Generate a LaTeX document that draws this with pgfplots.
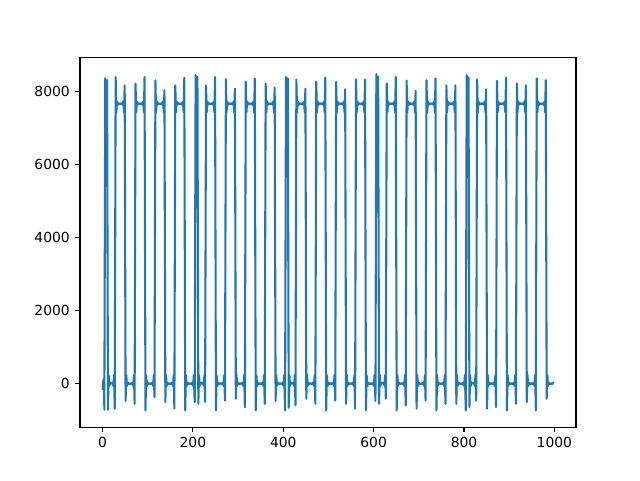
\documentclass[border=0pt]{standalone}
\usepackage{fontspec}
\setmainfont{DejaVu Sans}
\usepackage{pgfplots}
\pgfplotsset{compat=1.18}
\definecolor{mplblue}{HTML}{1F77B4}
\begin{document}
\begin{tikzpicture}
\begin{axis}[
  scale only axis,
  width=372pt, height=277.2pt,
  xmin=-49.9, xmax=1047.9,
  ymin=-1200, ymax=8920,
  xtick={0,200,400,600,800,1000},
  ytick={0,2000,4000,6000,8000},
  xtick pos=bottom, ytick pos=left,
  tick align=outside,
  major tick length=3.65pt,
  every tick/.style={black, line width=0.83pt},
  axis line style={line width=0.83pt},
  tick label style={font=\fontsize{10.4}{12}\selectfont},
  /pgf/number format/assume math mode=true,
  /pgf/number format/1000 sep={},
  scaled ticks=false,
  xticklabel style={yshift=-0.5pt},
  yticklabel style={xshift=-0.5pt},
]
\addplot[mplblue, line width=1.56pt, line join=round] coordinates {
(0,-180) (1.5,60) (3,120) (4,-720) (6,8350) (8,7950) (10,8300) (12,-720)
(13.5,230) (15,-70) (17,20) (19.5,0) (22,20) (24,-70) (25.5,230) (27,-690)
(29,8390) (30.5,7420) (32,7720) (34,7630) (36,7670) (39,7650) (42,7670) (44,7630) (46,7720) (47.5,7420) (49,8160)
(51,-480) (52.5,230) (54,-70) (56,20) (58,-20) (61,0) (64,-20) (66,20) (68,-70) (69.5,230) (71,-560)
(73,8210) (74.5,7420) (76,7720) (78,7630) (80,7670) (83,7650) (86,7670) (88,7630) (90,7720) (91.5,7420) (93,8390)
(95,-740) (96.5,230) (98,-70) (100,20) (102,-20) (105,0) (108,-20) (110,20) (112,-70) (113.5,230) (115,-375)
(117,8300) (118.5,7420) (120,7720) (122,7630) (124,7670) (127,7650) (130,7670) (132,7630) (134,7720) (135.5,7420) (137,8030)
(139,-510) (140.5,230) (142,-70) (144,20) (146,-20) (149,0) (152,-20) (154,20) (156,-70) (157.5,230) (159,-690)
(161,8160) (162.5,7420) (164,7720) (166,7630) (168,7670) (171,7650) (174,7670) (176,7630) (178,7720) (179.5,7420) (181,8370)
(183,-740) (184.5,230) (186,-70) (188,20) (190.5,-20) (193,0) (196,-20) (198.5,20) (200.5,-70) (202,230) (204,-510)
(206,8440) (208,7950) (210,8400) (212,-560)
(213.5,230) (215,-70) (217,20) (219.5,0) (222,20) (224,-70) (225.5,230) (227,-510)
(229,8160) (230.5,7420) (232,7720) (234,7630) (236,7670) (239,7650) (242,7670) (244,7630) (246,7720) (247.5,7420) (249,8390)
(251,-740) (252.5,230) (254,-70) (256,20) (258,-20) (261,0) (264,-20) (266,20) (268,-70) (269.5,230) (271,-470)
(273,8330) (274.5,7420) (276,7720) (278,7630) (280,7670) (283,7650) (286,7670) (288,7630) (290,7720) (291.5,7420) (293,8070)
(295,-420) (296.5,230) (298,-70) (300,20) (302,-20) (305,0) (308,-20) (310,20) (312,-70) (313.5,230) (315,-650)
(317,8260) (318.5,7420) (320,7720) (322,7630) (324,7670) (327,7650) (330,7670) (332,7630) (334,7720) (335.5,7420) (337,8350)
(339,-740) (340.5,230) (342,-70) (344,20) (346,-20) (349,0) (352,-20) (354,20) (356,-70) (357.5,230) (359,-560)
(361,8210) (362.5,7420) (364,7720) (366,7630) (368,7670) (371,7650) (374,7670) (376,7630) (378,7720) (379.5,7420) (381,8100)
(383,-480) (384.5,230) (386,-70) (388,20) (390.5,-20) (393,0) (396,-20) (398.5,20) (400.5,-70) (402,230) (404,-740)
(406,8390) (408,7950) (410,8350) (412,-670)
(413.5,230) (415,-70) (417,20) (419.5,0) (422,20) (424,-70) (425.5,230) (427,-600)
(429,8320) (430.5,7420) (432,7720) (434,7630) (436,7670) (439,7650) (442,7670) (444,7630) (446,7720) (447.5,7420) (449,8070)
(451,-420) (452.5,230) (454,-70) (456,20) (458,-20) (461,0) (464,-20) (466,20) (468,-70) (469.5,230) (471,-560)
(473,8260) (474.5,7420) (476,7720) (478,7630) (480,7670) (483,7650) (486,7670) (488,7630) (490,7720) (491.5,7420) (493,8370)
(495,-740) (496.5,230) (498,-70) (500,20) (502,-20) (505,0) (508,-20) (510,20) (512,-70) (513.5,230) (515,-470)
(517,8260) (518.5,7420) (520,7720) (522,7630) (524,7670) (527,7650) (530,7670) (532,7630) (534,7720) (535.5,7420) (537,8050)
(539,-560) (540.5,230) (542,-70) (544,20) (546,-20) (549,0) (552,-20) (554,20) (556,-70) (557.5,230) (559,-690)
(561,8320) (562.5,7420) (564,7720) (566,7630) (568,7670) (571,7650) (574,7670) (576,7630) (578,7720) (579.5,7420) (581,8320)
(583,-740) (584.5,230) (586,-70) (588,20) (590.5,-20) (593,0) (596,-20) (598.5,20) (600.5,-70) (602,230) (604,-480)
(606,8470) (608,7950) (610,8400) (612,-560)
(613.5,230) (615,-70) (617,20) (619.5,0) (622,20) (624,-70) (625.5,230) (627,-420)
(629,8210) (630.5,7420) (632,7720) (634,7630) (636,7670) (639,7650) (642,7670) (644,7630) (646,7720) (647.5,7420) (649,8390)
(651,-740) (652.5,230) (654,-70) (656,20) (658,-20) (661,0) (664,-20) (666,20) (668,-70) (669.5,230) (671,-600)
(673,8290) (674.5,7420) (676,7720) (678,7630) (680,7670) (683,7650) (686,7670) (688,7630) (690,7720) (691.5,7420) (693,8010)
(695,-690) (696.5,230) (698,-70) (700,20) (702,-20) (705,0) (708,-20) (710,20) (712,-70) (713.5,230) (715,-470)
(717,8300) (718.5,7420) (720,7720) (722,7630) (724,7670) (727,7650) (730,7670) (732,7630) (734,7720) (735.5,7420) (737,8350)
(739,-740) (740.5,230) (742,-70) (744,20) (746,-20) (749,0) (752,-20) (754,20) (756,-70) (757.5,230) (759,-560)
(761,8160) (762.5,7420) (764,7720) (766,7630) (768,7670) (771,7650) (774,7670) (776,7630) (778,7720) (779.5,7420) (781,8160)
(783,-560) (784.5,230) (786,-70) (788,20) (790.5,-20) (793,0) (796,-20) (798.5,20) (800.5,-70) (802,230) (804,-740)
(806,8440) (808,7950) (810,8380) (812,-650)
(813.5,230) (815,-70) (817,20) (819.5,0) (822,20) (824,-70) (825.5,230) (827,-470)
(829,8320) (830.5,7420) (832,7720) (834,7630) (836,7670) (839,7650) (842,7670) (844,7630) (846,7720) (847.5,7420) (849,8050)
(851,-690) (852.5,230) (854,-70) (856,20) (858,-20) (861,0) (864,-20) (866,20) (868,-70) (869.5,230) (871,-650)
(873,8280) (874.5,7420) (876,7720) (878,7630) (880,7670) (883,7650) (886,7670) (888,7630) (890,7720) (891.5,7420) (893,8370)
(895,-740) (896.5,230) (898,-70) (900,20) (902,-20) (905,0) (908,-20) (910,20) (912,-70) (913.5,230) (915,-560)
(917,8210) (918.5,7420) (920,7720) (922,7630) (924,7670) (927,7650) (930,7670) (932,7630) (934,7720) (935.5,7420) (937,8160)
(939,-510) (940.5,230) (942,-70) (944,20) (946,-20) (949,0) (952,-20) (954,20) (956,-70) (957.5,230) (959,-740)
(961,8350) (962.5,7420) (964,7720) (966,7630) (968,7670) (971,7650) (974,7670) (976,7630) (978,7720) (979.5,7420) (981,8300)
(983,-420) (984.5,230) (986,-70) (988,20) (990,-20) (993,0) (995,-20) (997,20) (998,0)
};
\end{axis}
\path[use as bounding box] (current axis.south west) ++(-60pt,-39.6pt) rectangle ++(480pt,360pt);
\end{tikzpicture}
\end{document}
